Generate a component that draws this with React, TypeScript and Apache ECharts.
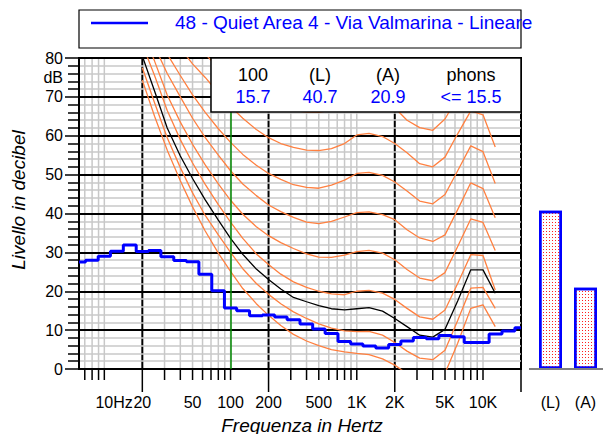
import React, { useEffect, useRef } from "react";
import * as echarts from "echarts";

const FONT = "'Liberation Sans', Arial, Helvetica, sans-serif";

// 1/3-octave spectrum (blue steps)
const bandFreqs = [6.3, 8, 10, 12.5, 16, 20, 25, 31.5, 40, 50, 63, 80, 100, 125, 160, 200, 250, 315, 400, 500, 630, 800, 1000, 1250, 1600, 2000, 2500, 3150, 4000, 5000, 6300, 8000, 10000, 12500, 16000, 20000];
const spectrum = [27.5, 28.0, 29.0, 30.3, 31.9, 30.2, 30.5, 28.9, 27.9, 27.6, 24.4, 20.1, 15.7, 15.0, 13.7, 13.9, 13.4, 12.7, 11.6, 10.3, 9.1, 7.1, 6.4, 5.9, 5.4, 6.3, 7.2, 8.1, 7.8, 8.6, 8.3, 6.8, 6.8, 9.0, 9.8, 10.6];

// equal-loudness contours
const contourFreqs = [20, 25, 31.5, 40, 50, 63, 80, 100, 125, 160, 200, 250, 315, 400, 500, 630, 800, 1000, 1250, 1600, 2000, 2500, 3150, 4000, 5000, 6300, 8000, 10000, 12500];
const threshold = [74.3, 65.0, 56.3, 48.4, 41.7, 35.5, 29.8, 25.1, 20.7, 16.8, 13.8, 11.2, 8.9, 7.2, 6.0, 5.0, 4.4, 4.0, 3.7, 2.6, 1.0, -1.2, -3.6, -3.9, -1.1, 6.6, 15.6, 16.5, 10.9];
const phon10 = [77.5, 68.5, 59.5, 51.8, 45.3, 39.5, 34.5, 30.0, 25.8, 22.0, 19.2, 16.8, 14.7, 13.0, 11.6, 10.5, 9.8, 9.6, 9.7, 8.7, 6.8, 4.6, 2.8, 2.4, 4.8, 12.5, 20.8, 21.0, 15.6];
const phon20 = [83.5, 75.5, 66.5, 59.0, 53.0, 47.5, 42.3, 37.8, 33.6, 29.6, 26.9, 24.4, 22.4, 21.0, 20.0, 19.3, 19.1, 20.0, 20.2, 19.5, 17.9, 15.6, 13.4, 12.8, 15.2, 22.0, 29.4, 29.2, 20.3];
const phon30 = [87.0, 79.2, 70.5, 63.5, 57.8, 52.5, 47.6, 43.4, 39.8, 36.6, 34.3, 32.5, 31.0, 29.6, 28.8, 28.7, 29.3, 30.2, 30.5, 29.8, 28.1, 25.6, 23.4, 22.7, 24.8, 31.5, 38.6, 37.7, 30.5];
const phon40 = [90.0, 83.0, 76.0, 70.0, 64.5, 59.5, 55.0, 51.0, 47.6, 44.6, 42.2, 40.5, 39.0, 37.8, 37.4, 38.0, 39.1, 40.2, 40.4, 39.7, 38.4, 35.8, 33.7, 32.8, 34.5, 41.0, 47.9, 46.4, 38.9];
const phon50 = [94.0, 88.0, 81.0, 75.5, 70.5, 66.0, 61.8, 58.3, 55.2, 52.4, 50.3, 48.8, 47.4, 46.7, 46.5, 47.3, 48.6, 50.3, 50.6, 49.8, 48.1, 45.8, 43.2, 42.5, 44.9, 51.0, 57.4, 55.9, 47.7];
const phon60 = [98.0, 92.5, 87.5, 82.5, 78.5, 75.0, 71.0, 67.5, 64.5, 61.6, 59.5, 58.0, 57.0, 56.3, 56.2, 56.7, 58.0, 60.2, 60.6, 59.8, 58.0, 55.6, 52.8, 52.0, 54.5, 60.5, 66.4, 65.4, 57.1];
const phon70 = [102.0, 97.0, 92.5, 88.0, 84.5, 81.0, 77.5, 74.5, 72.0, 70.0, 68.5, 67.3, 66.5, 66.1, 66.0, 66.6, 68.0, 70.1, 70.6, 69.8, 67.2, 64.0, 62.1, 61.4, 64.3, 70.0, 75.5, 74.5, 66.5];
const phonResult = [80.5, 71.5, 62.0, 54.8, 49.0, 43.5, 38.3, 33.6, 29.5, 25.7, 23.0, 20.6, 18.4, 17.3, 16.3, 15.5, 15.2, 15.5, 15.8, 14.9, 13.0, 10.9, 8.7, 8.2, 10.2, 17.5, 25.5, 25.5, 19.5];

// axis ticks / labels
const xMinorTicks = [7, 8, 9, 10, 30, 40, 50, 60, 70, 80, 90, 100, 300, 400, 500, 600, 700, 800, 900, 1000, 3000, 4000, 5000, 6000, 7000, 8000, 9000, 10000];
const xMajorTicks = [20, 200, 2000, 20000];
const xLabelFreqs = [10, 20, 50, 100, 200, 500, 1000, 2000, 5000, 10000];
const xLabelTexts = ["10Hz", "20", "50", "100", "200", "500", "1K", "2K", "5K", "10K"];
const yUnitLevel = [75];
const yUnitText = "dB";

const legendLabel = "48 - Quiet Area 4 - Via Valmarina - Lineare";
const tableHeaders = ["100", "(L)", "(A)", "phons"];
const tableValues = ["15.7", "40.7", "20.9", "<= 15.5"];
const barCategories = ["(L)", "(A)"];
const barValues = [40.7, 20.9];
const markerFreq = 100;

const pair = (xs: number[], ys: number[]) => xs.map((x, i) => [x, ys[i]]);

const ORANGE = "#ff8040";
const BLUE = "#0000ff";

function txt(text: string, x: number, y: number, opts: any = {}) {
  const align = opts.align || "center";
  return {
    type: "text",
    x,
    y,
    rotation: opts.rotation || 0,
    z: 20,
    silent: true,
    style: {
      text,
      fill: opts.fill || "#000",
      fontSize: opts.fontSize || 18,
      fontFamily: FONT,
      fontStyle: opts.fontStyle || "normal",
      align,
      textAlign: align,
      verticalAlign: "middle",
      textVerticalAlign: "middle",
    },
  };
}

export default function App() {
  const ref = useRef<HTMLDivElement>(null);

  useEffect(() => {
    if (!ref.current) return;
    const chart = echarts.init(ref.current, null, { renderer: "svg" });

    const contour = (name: string, data: number[], color: string, z: number, extra: any = {}) => ({
      type: "line",
      name,
      xAxisIndex: 0,
      yAxisIndex: 0,
      data: pair(contourFreqs, data),
      symbol: "none",
      showSymbol: false,
      smooth: false,
      clip: true,
      silent: true,
      z,
      lineStyle: { color, width: 1.3 },
      ...extra,
    });

    const gridTicks = [
      ...xMinorTicks.map((f) => [f, 0]),
      ...xMajorTicks.map((f) => [f, 1]),
    ];

    const option: any = {
      animation: false,
      backgroundColor: "#ffffff",
      textStyle: { fontFamily: FONT },
      grid: [
        { left: 79, top: 58, width: 442, height: 311, show: true, borderColor: "#000", borderWidth: 2, backgroundColor: "transparent", outerBoundsMode: "none", containLabel: false },
        { left: 533, top: 58, width: 70, height: 311, outerBoundsMode: "none", containLabel: false },
      ],
      xAxis: [
        {
          type: "log",
          gridIndex: 0,
          logBase: 10,
          min: 6.3,
          max: 20000,
          axisLine: { show: true, onZero: false, lineStyle: { color: "#000", width: 2 } },
          axisTick: { show: false },
          axisLabel: { show: false },
          splitLine: { show: false },
          minorTick: { show: false },
          minorSplitLine: { show: false },
        },
        {
          type: "category",
          gridIndex: 1,
          data: barCategories,
          axisLine: { show: false },
          axisTick: { show: false },
          splitLine: { show: false },
          axisLabel: { fontSize: 16, color: "#000", margin: 25, fontFamily: FONT },
        },
      ],
      yAxis: [
        {
          type: "value",
          gridIndex: 0,
          min: 0,
          max: 80,
          interval: 10,
          z: 1,
          axisLine: { show: true, onZero: false, lineStyle: { color: "#000", width: 2 } },
          axisTick: { show: true, length: 14, lineStyle: { color: "#000", width: 1.5 } },
          minorTick: { show: true, splitNumber: 5, length: 11, lineStyle: { color: "#000", width: 1.5 } },
          axisLabel: { fontSize: 16, color: "#000", margin: 16, fontFamily: FONT },
          splitLine: { show: true, lineStyle: { color: "#000", width: 2 } },
          minorSplitLine: { show: true, lineStyle: { color: "#c8c8c8", width: 1.5 } },
        },
        { type: "value", gridIndex: 1, min: 0, max: 80, show: false },
      ],
      series: [
        {
          type: "custom",
          name: "xGrid",
          xAxisIndex: 0,
          yAxisIndex: 0,
          z: 0,
          silent: true,
          clip: false,
          data: gridTicks,
          renderItem: (params: any, api: any) => {
            const f = api.value(0);
            const major = api.value(1) === 1;
            const pb = api.coord([f, 0]);
            const pt = api.coord([f, 80]);
            return {
              type: "group",
              children: [
                {
                  type: "line",
                  shape: { x1: pb[0], y1: pt[1], x2: pb[0], y2: pb[1] },
                  style: { stroke: major ? "#000" : "#c8c8c8", lineWidth: major ? 2 : 1.5 },
                },
                {
                  type: "line",
                  shape: { x1: pb[0], y1: pb[1], x2: pb[0], y2: pb[1] + (major ? 23 : 11) },
                  style: { stroke: "#000", lineWidth: 1.5 },
                },
              ],
            };
          },
        },
        {
          type: "custom",
          name: "xLabels",
          xAxisIndex: 0,
          yAxisIndex: 0,
          z: 5,
          silent: true,
          clip: false,
          data: xLabelFreqs.map((f) => [f, 0]),
          renderItem: (params: any, api: any) => {
            const p = api.coord([api.value(0), 0]);
            const text = xLabelTexts[params.dataIndex];
            const hz = text.endsWith("Hz");
            const align = hz ? "left" : "center";
            return {
              type: "text",
              x: hz ? p[0] - 8.9 : p[0],
              y: p[1] + 33,
              style: {
                text,
                fill: "#000",
                fontSize: 16,
                fontFamily: FONT,
                align,
                textAlign: align,
                verticalAlign: "middle",
                textVerticalAlign: "middle",
              },
            };
          },
        },
        {
          type: "custom",
          name: "yUnit",
          xAxisIndex: 0,
          yAxisIndex: 0,
          z: 5,
          silent: true,
          clip: false,
          data: yUnitLevel.map((v) => [6.3, v]),
          renderItem: (params: any, api: any) => {
            const p = api.coord([api.value(0), api.value(1)]);
            return {
              type: "text",
              x: p[0] - 16,
              y: p[1],
              style: {
                text: yUnitText,
                fill: "#000",
                fontSize: 16,
                fontFamily: FONT,
                align: "right",
                textAlign: "right",
                verticalAlign: "middle",
                textVerticalAlign: "middle",
              },
            };
          },
        },
        contour("0 phon", threshold, ORANGE, 2, {
          markLine: {
            silent: true,
            symbol: ["none", "none"],
            label: { show: false },
            lineStyle: { color: "#008800", width: 1.5, type: "solid" },
            data: [{ xAxis: markerFreq }],
          },
        }),
        contour("10 phon", phon10, ORANGE, 2),
        contour("20 phon", phon20, ORANGE, 2),
        contour("30 phon", phon30, ORANGE, 2),
        contour("40 phon", phon40, ORANGE, 2),
        contour("50 phon", phon50, ORANGE, 2),
        contour("60 phon", phon60, ORANGE, 2),
        contour("70 phon", phon70, ORANGE, 2),
        contour("15.5 phon", phonResult, "#000", 3),
        {
          type: "line",
          name: legendLabel,
          xAxisIndex: 0,
          yAxisIndex: 0,
          data: pair(bandFreqs, spectrum),
          step: "middle",
          symbol: "none",
          showSymbol: false,
          clip: true,
          silent: true,
          z: 6,
          lineStyle: { color: BLUE, width: 3 },
        },
        {
          type: "bar",
          name: "levels",
          xAxisIndex: 1,
          yAxisIndex: 1,
          data: barValues,
          barWidth: 23,
          silent: true,
          itemStyle: {
            color: "#ffffff",
            borderColor: BLUE,
            borderWidth: 2.5,
            decal: {
              symbol: "rect",
              symbolSize: 1,
              color: "#ff2020",
              dashArrayX: [1, 2],
              dashArrayY: [1, 2],
              rotation: 0,
            },
          },
        },
      ],
      graphic: [
        { type: "rect", z: 20, silent: true, shape: { x: 79, y: 10, width: 442, height: 38 }, style: { fill: "none", stroke: "#000", lineWidth: 1.2 } },
        { type: "line", z: 20, silent: true, shape: { x1: 91, y1: 23, x2: 148, y2: 23 }, style: { stroke: BLUE, lineWidth: 2.5 } },
        txt(legendLabel, 175, 22, { align: "left", fill: BLUE, fontSize: 19 }),
        { type: "rect", z: 15, silent: true, shape: { x: 211, y: 58, width: 310, height: 54 }, style: { fill: "#ffffff", stroke: "#000", lineWidth: 1.5 } },
        ...tableHeaders.map((t, i) => txt(t, [253, 320, 388, 471][i], 75, { fontSize: 18 })),
        ...tableValues.map((t, i) => txt(t, [253, 320, 388, 471][i], 96.5, { fontSize: 18, fill: BLUE })),
        txt("Frequenza in Hertz", 302, 425, { fontSize: 19, fontStyle: "italic" }),
        txt("Livello in decibel", 18, 200, { fontSize: 19, fontStyle: "italic", rotation: Math.PI / 2 }),
        { type: "line", z: 20, silent: true, shape: { x1: 529, y1: 369, x2: 603, y2: 369 }, style: { stroke: "#808080", lineWidth: 2 } },
      ],
    };

    chart.setOption(option);
    return () => chart.dispose();
  }, []);

  return <div ref={ref} style={{ position: "absolute", left: 0, top: 0, width: 603, height: 434 }} />;
}
